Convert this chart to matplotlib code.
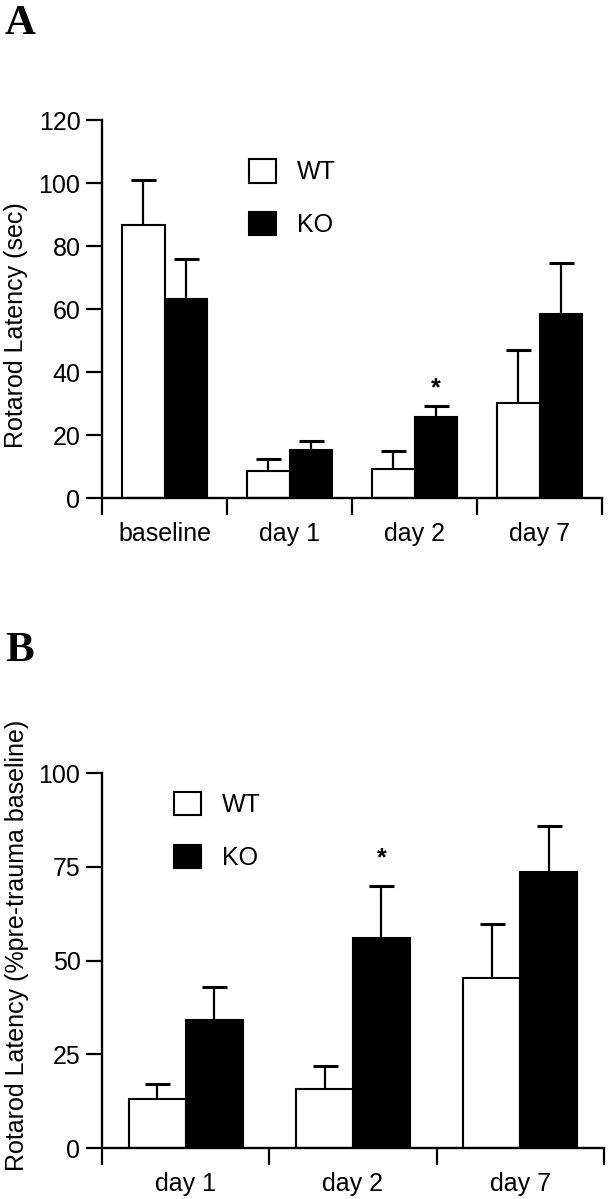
import matplotlib
matplotlib.use("Agg")
import matplotlib.pyplot as plt
from matplotlib.patches import Patch
import numpy as np

plt.rcParams["font.family"] = ["Liberation Sans", "DejaVu Sans"]

# panel A data: raw rotarod latency (sec), mean and upper SEM
categories_a = ["baseline", "day 1", "day 2", "day 7"]
wt_a = [86.8, 8.8, 9.3, 30.1]
wt_a_err = [14.2, 3.7, 5.6, 16.9]
ko_a = [63.2, 15.3, 25.7, 58.5]
ko_a_err = [12.7, 3.0, 3.6, 16.2]
sig_a = [False, False, True, False]

# panel B data: % of pre-trauma baseline
categories_b = ["day 1", "day 2", "day 7"]
wt_b = [13.1, 15.8, 45.3]
wt_b_err = [4.0, 6.1, 14.5]
ko_b = [34.1, 56.0, 73.6]
ko_b_err = [9.0, 13.9, 12.4]
sig_b = [False, True, False]

W = 609
H = 1199
fig = plt.figure(figsize=(W / 100, H / 100), dpi=100)
fig.patch.set_facecolor("white")

# axes boxes in pixels: left, top, right, bottom
axA = fig.add_axes([102 / W, 1 - 498.3 / H, 500 / W, 378.3 / H])
axB = fig.add_axes([102 / W, 1 - 1148 / H, 502 / W, 374.7 / H])


def draw_panel(ax, cats, wt, wt_err, ko, ko_err, sig, ymax, ystep,
               star_off, leg_anchor):
    n = len(cats)
    x = np.arange(n)
    bw = 0.34

    # bars
    ax.bar(x - bw / 2, wt, bw, color="white", edgecolor="black",
           linewidth=1.5, zorder=2, label="WT")
    ax.bar(x + bw / 2, ko, bw, color="black", edgecolor="black",
           linewidth=1.5, zorder=2, label="KO")

    # upper error bars only
    for xs, ys, es in [(x - bw / 2, wt, wt_err), (x + bw / 2, ko, ko_err)]:
        eb = ax.errorbar(xs, ys, yerr=[np.zeros(n), es], fmt="none",
                         ecolor="black", elinewidth=1.6, capsize=9,
                         capthick=2.2, zorder=1)
        eb[1][0].set_visible(False)

    # significance stars
    for i in range(n):
        if sig[i]:
            ax.annotate("*", xy=(x[i] + bw / 2, ko[i] + ko_err[i]),
                        xytext=(0, star_off), textcoords="offset points",
                        ha="center", va="center", fontsize=18,
                        fontweight="bold")

    ax.set_ylim(0, ymax)
    ax.set_xlim(-0.5, n - 0.5)
    ax.set_yticks(np.arange(0, ymax + 1, ystep))

    # category separators as major ticks, names as minor ticks
    ax.set_xticks(np.arange(n + 1) - 0.5)
    ax.set_xticklabels([])
    ax.set_xticks(x, minor=True)
    ax.set_xticklabels(cats, minor=True)

    for s in ["top", "right"]:
        ax.spines[s].set_visible(False)
    for s in ["left", "bottom"]:
        ax.spines[s].set_linewidth(1.7)

    ax.tick_params(axis="y", direction="out", length=11.5, width=1.6,
                   labelsize=18, pad=4)
    ax.tick_params(axis="x", which="major", direction="out", length=12,
                   width=1.6)
    ax.tick_params(axis="x", which="minor", length=0, labelsize=18, pad=17)

    handles = [Patch(facecolor="white", edgecolor="black", linewidth=1.5),
               Patch(facecolor="black", edgecolor="black", linewidth=1.5)]
    ax.legend(handles, ["WT", "KO"], loc="upper left",
              bbox_to_anchor=leg_anchor, frameon=False, fontsize=18,
              handlelength=1.08, handleheight=1.08, handletextpad=0.85,
              labelspacing=1.1, borderpad=0, borderaxespad=0)


draw_panel(axA, categories_a, wt_a, wt_a_err, ko_a, ko_a_err, sig_a,
           120, 20, 12.5, (0.294, 0.897))
draw_panel(axB, categories_b, wt_b, wt_b_err, ko_b, ko_b_err, sig_b,
           100, 25, 20, (0.143, 0.951))

# y axis titles
fig.text(16 / W, 1 - 325 / H, "Rotarod Latency (sec)", rotation=90,
         ha="center", va="center", fontsize=18)
fig.text(17 / W, 1 - 945 / H, "Rotarod Latency (%pre-trauma baseline)",
         rotation=90, ha="center", va="center", fontsize=18)

# panel letters
fig.text(5 / W, 1 - 5 / H, "A", ha="left", va="top", fontsize=31,
         fontweight="bold", family=["Liberation Serif", "DejaVu Serif"])
fig.text(5 / W, 1 - 632 / H, "B", ha="left", va="top", fontsize=31,
         fontweight="bold", family=["Liberation Serif", "DejaVu Serif"])

plt.savefig("out.png", dpi=100)
